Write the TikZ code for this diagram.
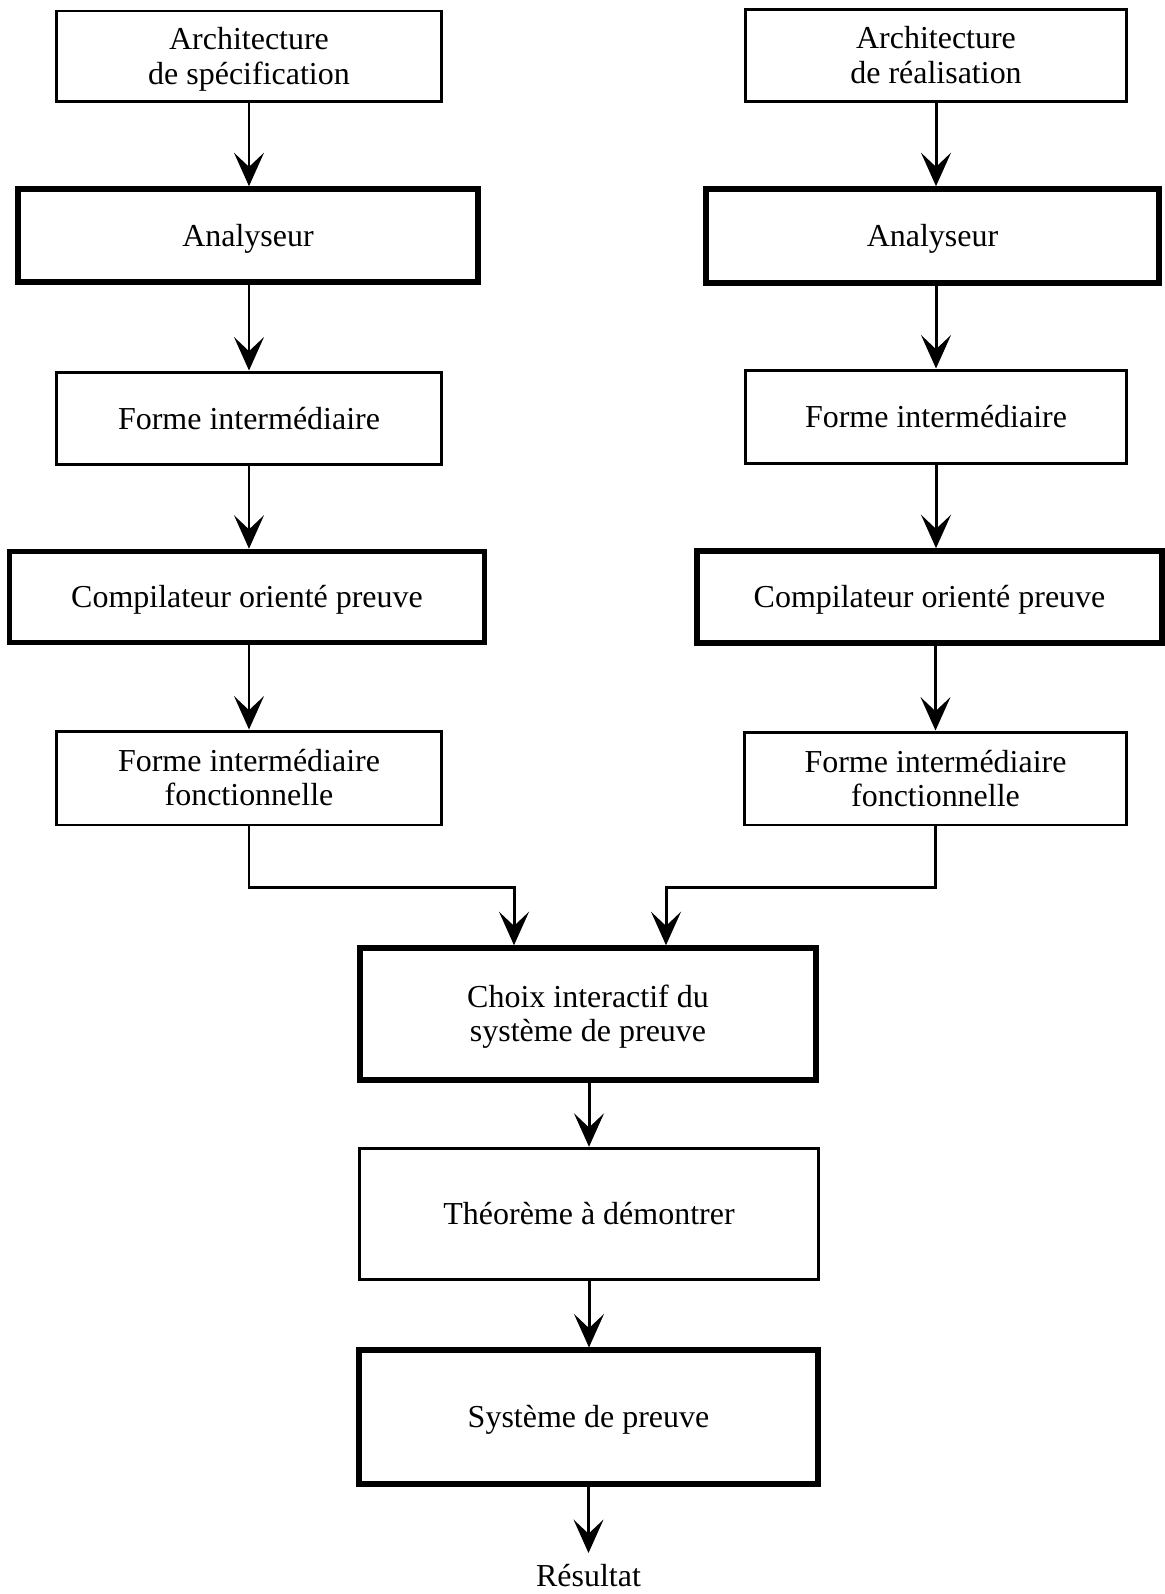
\documentclass[tikz,border=0pt]{standalone}
\usepackage{fontspec}
\setmainfont{Liberation Serif}
\usetikzlibrary{arrows.meta}
\newcommand\myone[1]{\rule[-4.6pt]{0pt}{21.6pt}#1}
\newcommand\mytwo[2]{\rule{0pt}{16.8pt}#1\\#2\rule[-4.6pt]{0pt}{4.6pt}}
\begin{document}
\begin{tikzpicture}[x=0.02cm,y=-0.02cm,
  box/.style={draw, line width=1.7pt, inner sep=0pt, align=center,
    font=\fontsize{18.2}{19.6}\selectfont},
  thickbox/.style={box, line width=3.2pt},
  arr/.style={line width=1.7pt, -{Stealth[length=19pt,width=17pt,inset=8pt]}}]
\useasboundingbox (0,0) rectangle (1165,1594);
% left column
\node[box, minimum width=7.70cm, minimum height=1.82cm] (L1) at (249,56.5) {\mytwo{Architecture}{de spécification}};
\node[thickbox, minimum width=9.20cm, minimum height=1.86cm] (L2) at (248,235.5) {\myone{Analyseur}};
\node[box, minimum width=7.70cm, minimum height=1.86cm] (L3) at (249,418.5) {\myone{Forme intermédiaire}};
\node[thickbox, minimum width=9.50cm, minimum height=1.82cm] (L4) at (247,597) {\myone{Compilateur orienté preuve}};
\node[box, minimum width=7.72cm, minimum height=1.88cm] (L5) at (249,778) {\mytwo{Forme intermédiaire}{fonctionnelle}};
% right column
\node[box, minimum width=7.64cm, minimum height=1.84cm] (R1) at (936,55.5) {\mytwo{Architecture}{de réalisation}};
\node[thickbox, minimum width=9.07cm, minimum height=1.88cm] (R2) at (932.5,236) {\myone{Analyseur}};
\node[box, minimum width=7.64cm, minimum height=1.88cm] (R3) at (936,417) {\myone{Forme intermédiaire}};
\node[thickbox, minimum width=9.30cm, minimum height=1.84cm] (R4) at (929.5,597) {\myone{Compilateur orienté preuve}};
\node[box, minimum width=7.64cm, minimum height=1.86cm] (R5) at (935.5,778.5) {\mytwo{Forme intermédiaire}{fonctionnelle}};
% center
\node[thickbox, minimum width=9.12cm, minimum height=2.64cm] (C1) at (588,1014) {\mytwo{Choix interactif du}{système de preuve}};
\node[box, minimum width=9.19cm, minimum height=2.63cm] (C2) at (589,1214) {\myone{Théorème à démontrer}};
\node[thickbox, minimum width=9.18cm, minimum height=2.67cm] (C3) at (588.5,1417) {\myone{Système de preuve}};
\node[anchor=north, inner sep=0pt, text height=19pt, font=\fontsize{18.2}{19.6}\selectfont] (res) at (588.5,1553) {Résultat};
% connectors left
\draw[arr] (L1.south) -- (L1.south |- L2.north);
\draw[arr] (L3.north |- L2.south) -- (L3.north);
\draw[arr] (L3.south) -- (L3.south |- L4.north);
\draw[arr] (L5.north |- L4.south) -- (L5.north);
% connectors right
\draw[arr] (R1.south) -- (R1.south |- R2.north);
\draw[arr] (R3.north |- R2.south) -- (R3.north);
\draw[arr] (R3.south) -- (R3.south |- R4.north);
\draw[arr] (R5.north |- R4.south) -- (R5.north);
% merge
\coordinate (jl) at (514,887);
\coordinate (jr) at (666,887);
\draw[arr] (L5.south) |- (jl) -- (jl |- C1.north);
\draw[arr] (R5.south) |- (jr) -- (jr |- C1.north);
% center
\draw[arr] (C2.north |- C1.south) -- (C2.north);
\draw[arr] (C2.south) -- (C2.south |- C3.north);
\draw[arr] (C3.south) -- (res.north);
\end{tikzpicture}
\end{document}
